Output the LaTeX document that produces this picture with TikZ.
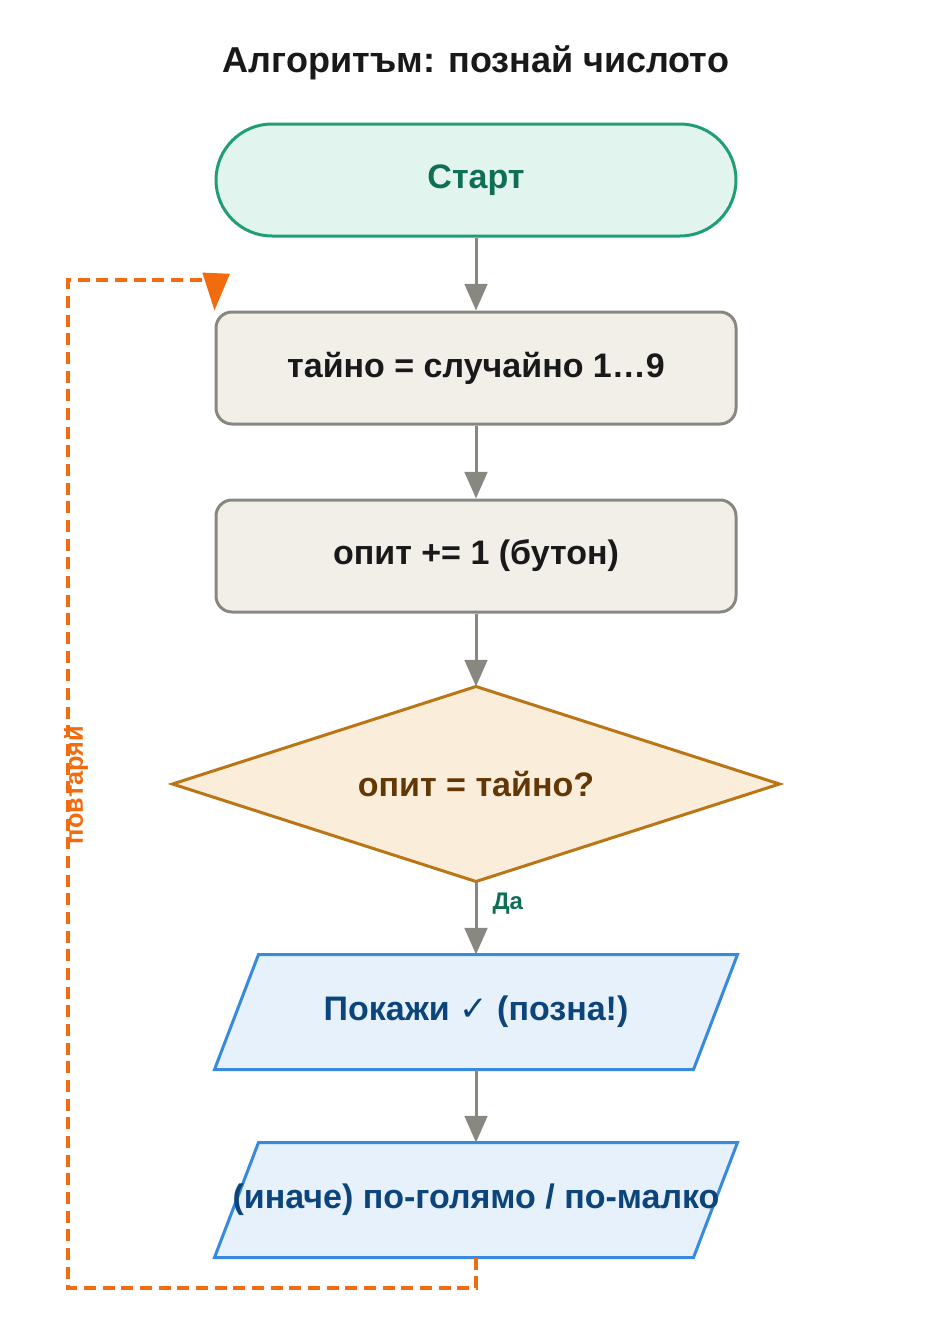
\documentclass[tikz,border=0pt]{standalone}
\usepackage{fontspec}
\setmainfont{Liberation Sans}
\newfontfamily\djv{DejaVu Sans}
\usetikzlibrary{arrows.meta}
\definecolor{gline}{HTML}{888780}
\definecolor{orng}{HTML}{F26B0F}
\definecolor{sdraw}{HTML}{1E9E72}
\definecolor{sfill}{HTML}{E1F5EE}
\definecolor{stext}{HTML}{0F6E56}
\definecolor{bfill}{HTML}{F1EFE8}
\definecolor{dfill}{HTML}{FAEEDA}
\definecolor{ddraw}{HTML}{BA7517}
\definecolor{dtext}{HTML}{633806}
\definecolor{pdraw}{HTML}{378ADD}
\definecolor{pfill}{HTML}{E6F1FB}
\definecolor{ptext}{HTML}{0C447C}
\begin{document}
\begin{tikzpicture}[x=0.75pt,y=-0.75pt,
  box/.style={minimum width=390pt,minimum height=84pt,inner sep=0pt,line width=2.25pt,font=\bfseries\fontsize{25.5}{30}\selectfont},
  frame/.style={box,draw=none},
  txt/.style={font=\bfseries\fontsize{25.5}{30}\selectfont},
  conn/.style={draw=gline,line width=2.25pt,-{Triangle[length=20pt,width=17pt]}},
  loop/.style={draw=orng,line width=2.6pt,dash pattern=on 9pt off 5pt}]
\useasboundingbox (0,0) rectangle (952,1320);
\node[font=\bfseries\fontsize{27}{32}\selectfont,text=black!90] (title) at (476,63) {Алгоритъм: познай числото};
\node[box,rounded corners=42pt,draw=sdraw,fill=sfill,text=stext] (start) at (476,180) {Старт};
\node[box,rounded corners=12pt,draw=gline,fill=bfill,text=black!90] (b1) at (476,368) {тайно = случайно 1…9};
\node[box,rounded corners=12pt,draw=gline,fill=bfill,text=black!90] (b2) at (476,556) {опит += 1 (бутон)};
\node[frame,minimum width=453pt,minimum height=144pt] (d) at (476,784) {};
\draw[ddraw,fill=dfill,line width=2.25pt,line join=miter] (d.north)--(d.east)--(d.south)--(d.west)--cycle;
\node[txt,text=dtext] (dt) at (d.center) {опит = тайно?};
\node[frame] (p1) at (476,1012) {};
\draw[pdraw,fill=pfill,line width=2.25pt] ([xshift=33pt]p1.north west)--(p1.north east)--([xshift=-33pt]p1.south east)--(p1.south west)--cycle;
\node[txt,text=ptext] (p1t) at (p1.center) {Покажи {\djv ✓} (позна!)};
\node[frame] (p2) at (476,1200) {};
\draw[pdraw,fill=pfill,line width=2.25pt] ([xshift=33pt]p2.north west)--(p2.north east)--([xshift=-33pt]p2.south east)--(p2.south west)--cycle;
\node[txt,text=ptext] (p2t) at (p2.center) {(иначе) по-голямо / по-малко};
\draw[conn] (start) -- (b1);
\draw[conn] (b1) -- (b2);
\draw[conn] (b2) -- (d.north);
\draw[conn] (d.south) -- node[pos=0.3,right,xshift=8pt,font=\bfseries\fontsize{18}{20}\selectfont,text=stext] (da) {Да} (p1);
\draw[conn] (p1) -- (p2);
\coordinate (c1) at (476,1288);
\coordinate (c2) at (68,1288);
\coordinate (c3) at (68,280);
\coordinate (c4) at (216,280);
\draw[loop] (p2.south) -- (c1) -- (c2) -- (c3) -- (c4);
\draw[draw=orng,line width=2.6pt,-{Triangle[length=28pt,width=20pt]}] ([yshift=3pt]c4) -- (b1.north west);
\node[rotate=90,font=\bfseries\fontsize{19}{22}\selectfont,text=orng] (lbl) at (76,785) {повтаряй};
\end{tikzpicture}
\end{document}
